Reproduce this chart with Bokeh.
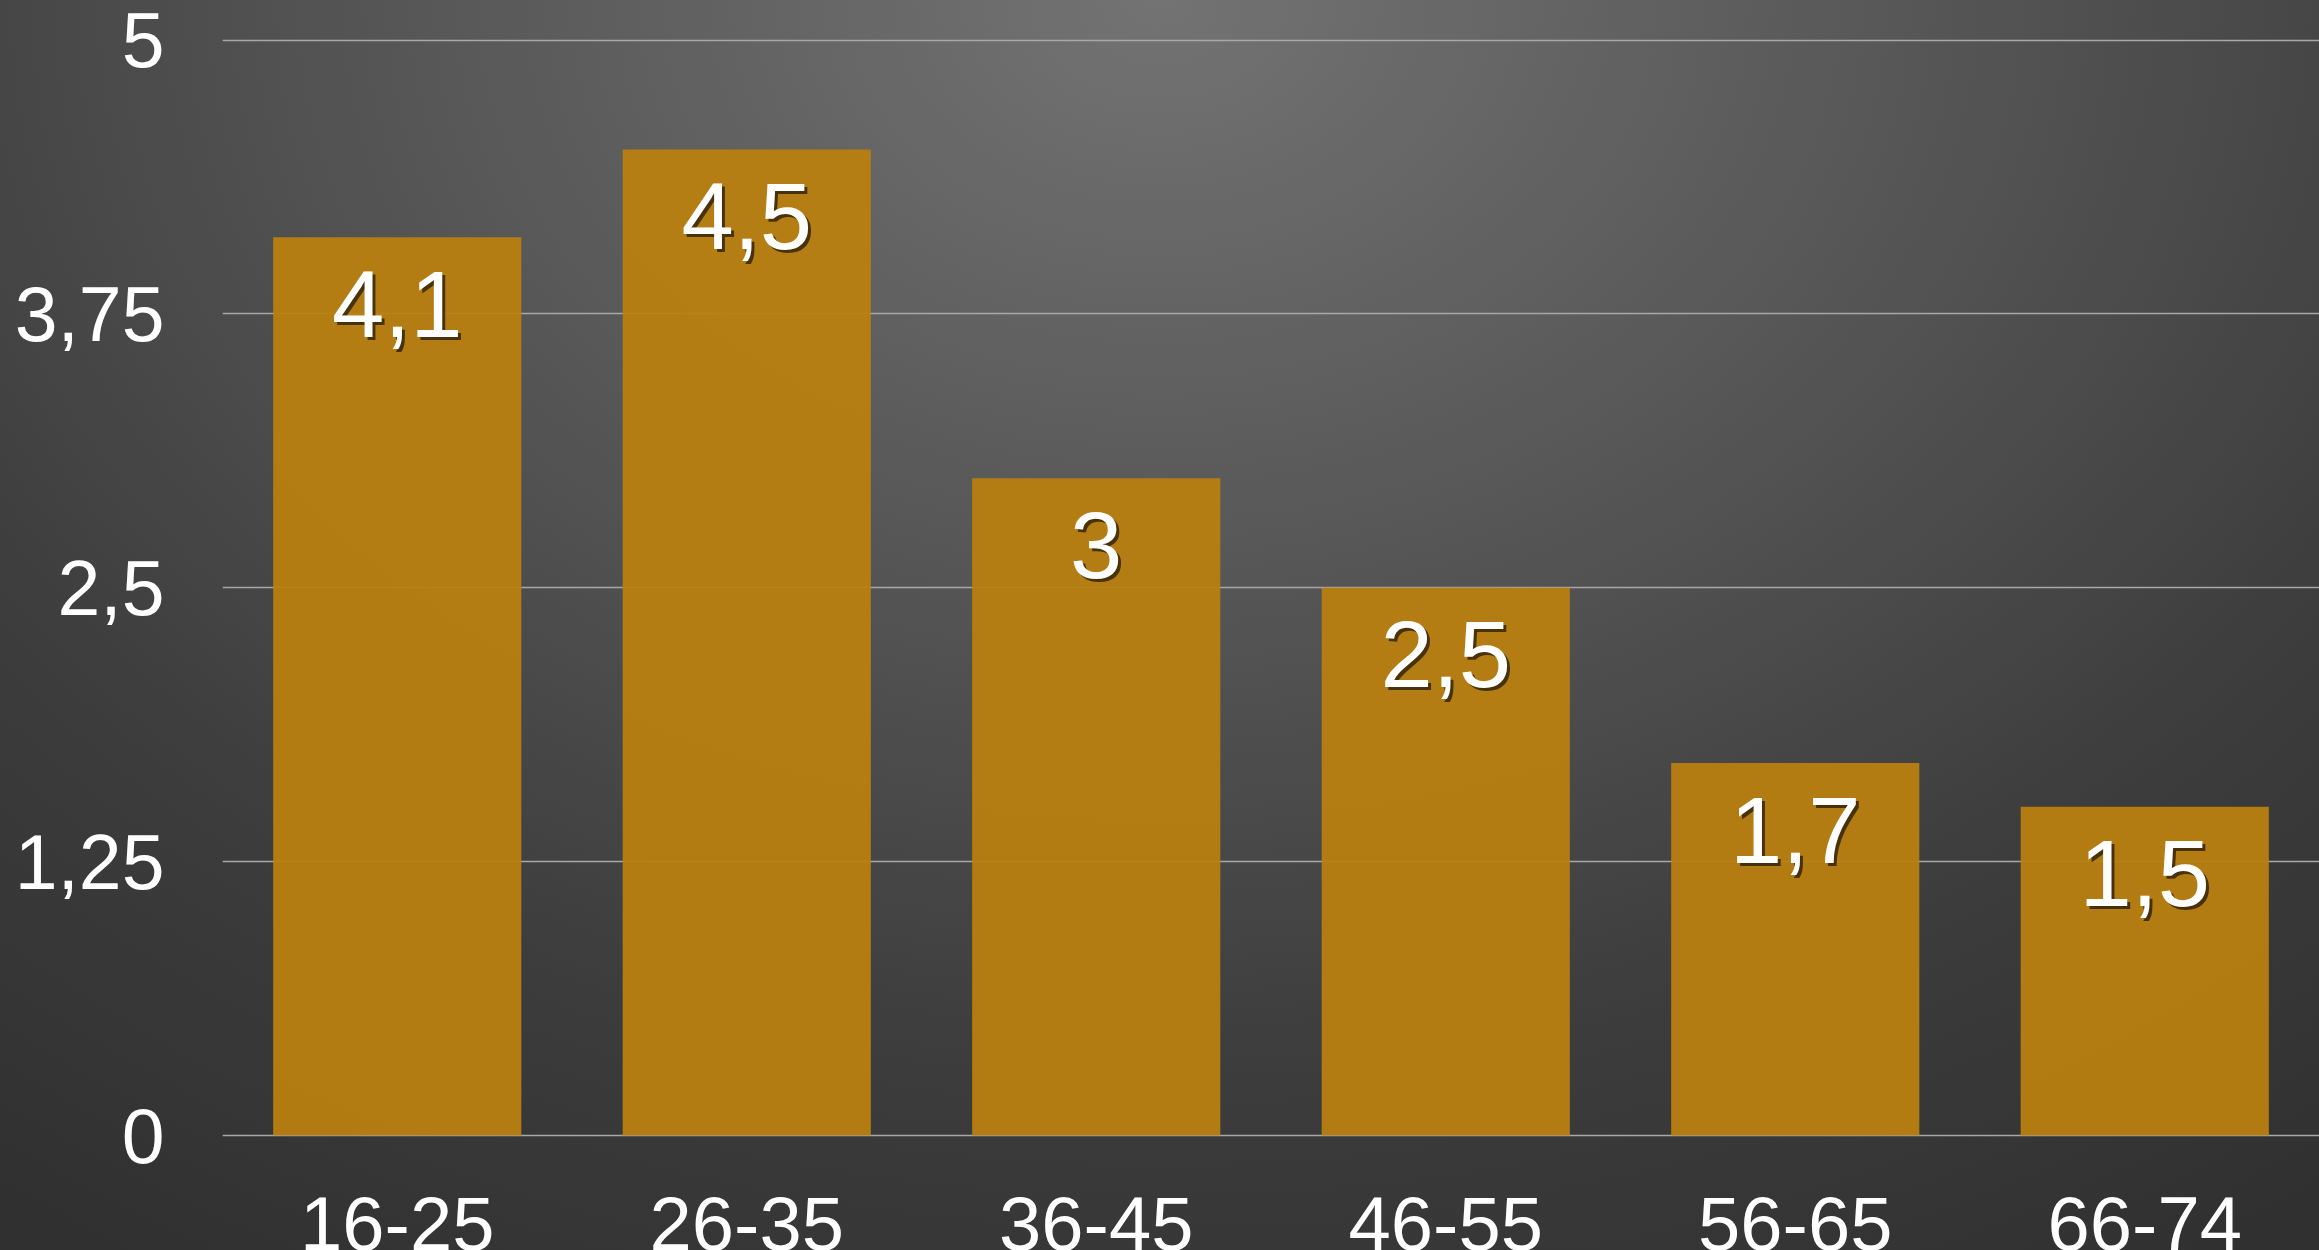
from bokeh.plotting import figure
from bokeh.models import FactorRange, Range1d, FixedTicker, ColumnDataSource
from bokeh.core.properties import value
from bokeh.embed import file_html
from bokeh.resources import INLINE

categories = ["16-25", "26-35", "36-45", "46-55", "56-65", "66-74"]
values = [4.1, 4.5, 3.0, 2.5, 1.7, 1.5]
y_ticks = [0, 1.25, 2.5, 3.75, 5]
y_tick_labels = ["0", "1,25", "2,5", "3,75", "5"]


def fmt(v):
    s = ("%g" % v)
    return s.replace(".", ",")


value_labels = [fmt(v) for v in values]

src = ColumnDataSource(dict(cat=categories, val=values, lab=value_labels,
                            zero=[0] * len(categories)))

FONT = "Liberation Sans"
W, H = 2319, 1250
px_per_unit = (1135 - 39.5) / 5.0
ymax = 5 + 39.5 / px_per_unit
ymin = -(H - 1135) / px_per_unit

p = figure(x_range=FactorRange(factors=categories, range_padding=0),
           y_range=Range1d(ymin, ymax),
           width=W, height=H, output_backend="svg", toolbar_location=None,
           x_axis_location=None,
           min_border_left=222, min_border_right=0, min_border_top=0,
           min_border_bottom=0)

p.styles = {"background": "radial-gradient(ellipse 85% 120% at 50% 0%, #737373 0%, #555555 40%, #3c3c3c 72%, #303030 100%)"}
p.background_fill_alpha = 0
p.border_fill_alpha = 0
p.outline_line_color = None

p.xgrid.grid_line_color = None
p.ygrid.ticker = FixedTicker(ticks=y_ticks)
p.ygrid.grid_line_color = "#a8a8a8"
p.ygrid.grid_line_width = 1.5

p.vbar(x="cat", top="val", bottom=0, width=0.71, source=src,
       fill_color="#b97f10", fill_alpha=0.95, line_color=None)

# value label shadows then labels
p.text(x="cat", y="val", text="lab", source=src, x_offset=3, y_offset=70,
       text_align="center", text_baseline="alphabetic",
       text_font=value(FONT), text_font_size="94px",
       text_color="black", text_alpha=0.6)
p.text(x="cat", y="val", text="lab", source=src, y_offset=67,
       text_align="center", text_baseline="alphabetic",
       text_font=value(FONT), text_font_size="94px", text_color="white")

# category labels under the zero line
p.text(x="cat", y="zero", text="cat", source=src, y_offset=88,
       text_align="center", text_baseline="alphabetic",
       text_font=value(FONT), text_font_size="76px", text_color="white")

ax = p.yaxis[0]
ax.ticker = FixedTicker(ticks=y_ticks)
ax.major_label_overrides = {t: l for t, l in zip(y_ticks, y_tick_labels)}
ax.axis_line_color = None
ax.major_tick_line_color = None
ax.minor_tick_line_color = None
ax.major_label_standoff = 52
ax.major_label_text_font = FONT
ax.major_label_text_font_size = "77px"
ax.major_label_text_color = "white"

open("out.html", "w").write(file_html(p, INLINE))
